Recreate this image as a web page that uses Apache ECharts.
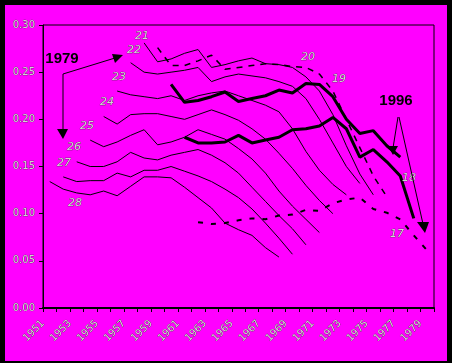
<!DOCTYPE html>
<html>
<head>
<meta charset="utf-8">
<script src="https://cdn.jsdelivr.net/npm/echarts@6/dist/echarts.min.js"></script>
<style>
  html, body { margin: 0; padding: 0; background: #000; }
  #chart { position: absolute; left: 5px; top: 5px; width: 442px; height: 356px; background: #ff00ff; }
</style>
</head>
<body>
<div id="chart"></div>
<script>
// years on the category axis, labels every other year
const years = []
for (let y = 1951; y <= 1979; y++) years.push(String(y))
const yTicks = [0, 0.05, 0.1, 0.15, 0.2, 0.25, 0.3]

// one line per age, each runs 18 years from 1979-age to 1996-age
const age28 = [0.134, 0.126, 0.122, 0.120, 0.124, 0.119, 0.129, 0.139, 0.139, 0.138, 0.128, 0.117, 0.106, 0.090, 0.083, 0.077, 0.064, 0.054]
const age27 = [0.139, 0.134, 0.135, 0.135, 0.143, 0.139, 0.146, 0.146, 0.150, 0.145, 0.140, 0.134, 0.126, 0.117, 0.105, 0.090, 0.074, 0.057]
const age26 = [0.155, 0.150, 0.150, 0.155, 0.165, 0.159, 0.157, 0.162, 0.165, 0.168, 0.162, 0.154, 0.143, 0.128, 0.113, 0.098, 0.084, 0.067]
const age25 = [0.178, 0.171, 0.176, 0.183, 0.189, 0.173, 0.176, 0.181, 0.189, 0.184, 0.179, 0.169, 0.158, 0.143, 0.124, 0.108, 0.094, 0.080]
const age24 = [0.203, 0.195, 0.205, 0.206, 0.206, 0.203, 0.200, 0.205, 0.210, 0.205, 0.199, 0.190, 0.179, 0.164, 0.148, 0.130, 0.114, 0.100]
const age23 = [0.230, 0.226, 0.224, 0.222, 0.225, 0.220, 0.225, 0.228, 0.230, 0.225, 0.220, 0.215, 0.208, 0.190, 0.166, 0.146, 0.131, 0.120]
const age22 = [0.260, 0.250, 0.248, 0.250, 0.252, 0.255, 0.240, 0.245, 0.248, 0.246, 0.244, 0.240, 0.235, 0.222, 0.200, 0.175, 0.150, 0.132]
const age21 = [0.281, 0.261, 0.264, 0.270, 0.274, 0.255, 0.258, 0.262, 0.265, 0.259, 0.258, 0.255, 0.245, 0.230, 0.205, 0.172, 0.142, 0.120]
const age20 = [0.276, 0.257, 0.257, 0.262, 0.268, 0.253, 0.255, 0.257, 0.259, 0.258, 0.256, 0.255, 0.248, 0.230, 0.200, 0.170, 0.140, 0.118]
const age19 = [0.237, 0.218, 0.220, 0.224, 0.229, 0.219, 0.222, 0.225, 0.231, 0.228, 0.238, 0.237, 0.224, 0.200, 0.185, 0.188, 0.172, 0.160]
const age18 = [0.181, 0.175, 0.175, 0.176, 0.183, 0.175, 0.178, 0.181, 0.189, 0.190, 0.193, 0.202, 0.190, 0.160, 0.168, 0.155, 0.140, 0.095]
const age17 = [0.091, 0.089, 0.090, 0.093, 0.095, 0.094, 0.098, 0.099, 0.104, 0.103, 0.111, 0.115, 0.117, 0.105, 0.101, 0.094, 0.077, 0.061]

const lines = [
  { age: 28, vals: age28, w: 1, dash: 'solid' },
  { age: 27, vals: age27, w: 1, dash: 'solid' },
  { age: 26, vals: age26, w: 1, dash: 'solid' },
  { age: 25, vals: age25, w: 1, dash: 'solid' },
  { age: 24, vals: age24, w: 1, dash: 'solid' },
  { age: 23, vals: age23, w: 1, dash: 'solid' },
  { age: 22, vals: age22, w: 1, dash: 'solid' },
  { age: 21, vals: age21, w: 1, dash: 'solid' },
  { age: 20, vals: age20, w: 1.5, dash: [6, 6] },
  { age: 19, vals: age19, w: 3, dash: 'solid' },
  { age: 18, vals: age18, w: 3, dash: 'solid' },
  { age: 17, vals: age17, w: 2, dash: [5, 8] }
]

const labelColor = '#d2d2d2'
const labelBorder = '#333'

const series = lines.map(l => {
  const start = 28 - l.age
  const data = years.map((y, i) => (i >= start && i < start + l.vals.length) ? l.vals[i - start] : null)
  return {
    name: String(l.age),
    type: 'line',
    data: data,
    symbol: 'none',
    connectNulls: false,
    lineStyle: { color: '#000', width: l.w, type: l.dash },
    z: 3
  }
})

// little age tags and the two cohort arrows
const tags = [
  ['21', 142, 36], ['22', 134, 50], ['23', 119, 77], ['24', 107, 102],
  ['25', 87, 126], ['26', 74, 147], ['27', 64, 163], ['28', 75, 203],
  ['20', 308, 57], ['19', 339, 79], ['18', 409, 178], ['17', 397, 234]
]

const graphic = tags.map(t => ({
  type: 'text', x: t[1] - 5, y: t[2] - 5,
  style: {
    text: t[0], fill: labelColor, stroke: labelBorder, lineWidth: 0.5,
    font: 'italic 11px "DejaVu Sans"', align: 'center', verticalAlign: 'middle'
  }, z: 10
}))

graphic.push(
  { type: 'text', x: 57, y: 54, style: { text: '1979', fill: '#000', font: 'bold 15px "Liberation Sans"', align: 'center', verticalAlign: 'middle' }, z: 10 },
  { type: 'text', x: 391, y: 96, style: { text: '1996', fill: '#000', font: 'bold 15px "Liberation Sans"', align: 'center', verticalAlign: 'middle' }, z: 10 },
  { type: 'polyline', shape: { points: [[58, 126], [58, 69], [110, 53]] }, style: { stroke: '#000', lineWidth: 1, fill: null }, z: 10 },
  { type: 'polygon', shape: { points: [[52, 124], [63, 124], [58, 134]] }, style: { fill: '#000' }, z: 10 },
  { type: 'polygon', shape: { points: [[107, 49], [118, 50], [110, 58]] }, style: { fill: '#000' }, z: 10 },
  { type: 'line', shape: { x1: 393, y1: 112, x2: 388, y2: 143 }, style: { stroke: '#000', lineWidth: 1 }, z: 10 },
  { type: 'polygon', shape: { points: [[383, 141], [393, 141], [388, 150]] }, style: { fill: '#000' }, z: 10 },
  { type: 'line', shape: { x1: 394, y1: 112, x2: 418, y2: 219 }, style: { stroke: '#000', lineWidth: 1 }, z: 10 },
  { type: 'polygon', shape: { points: [[412, 217], [424, 217], [420, 228]] }, style: { fill: '#000' }, z: 10 }
)

const chart = echarts.init(document.getElementById('chart'))

chart.setOption({
  animation: false,
  backgroundColor: '#ff00ff',
  grid: {
    left: 38, right: 13, top: 20, bottom: 53,
    show: true, borderColor: '#000', borderWidth: 1, backgroundColor: 'transparent'
  },
  xAxis: [
    {
      type: 'category',
      data: years,
      boundaryGap: true,
      axisLine: { lineStyle: { color: '#000', width: 2 } },
      axisTick: { show: true, length: 4, interval: 0, lineStyle: { color: '#000' } },
      axisLabel: { show: false },
      splitLine: { show: false }
    },
    {
      type: 'value',
      position: 'bottom',
      min: 0, max: 29, interval: 2,
      axisLine: { show: false },
      axisTick: { show: false },
      splitLine: { show: false },
      axisLabel: {
        rotate: 45, margin: 14,
        color: labelColor, textBorderColor: labelBorder, textBorderWidth: 0.5,
        fontFamily: 'DejaVu Sans', fontSize: 10,
        formatter: v => years[v] || ''
      }
    }
  ],
  yAxis: {
    type: 'value',
    min: 0, max: 0.3, interval: 0.05,
    axisLine: { show: true, lineStyle: { color: '#000', width: 1 } },
    axisTick: { show: true, length: 4, lineStyle: { color: '#000' } },
    splitLine: { show: false },
    axisLabel: {
      margin: 8,
      color: labelColor, textBorderColor: labelBorder, textBorderWidth: 0.5,
      fontFamily: 'DejaVu Sans', fontSize: 10,
      formatter: v => v.toFixed(2)
    }
  },
  series: series,
  graphic: graphic
})
</script>
</body>
</html>
